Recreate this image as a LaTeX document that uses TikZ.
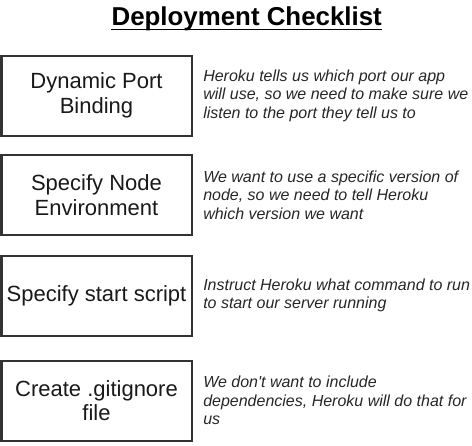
\documentclass[tikz,border=0pt]{standalone}
\usepackage{fontspec}
\setmainfont{Liberation Sans}
\begin{document}
\begin{tikzpicture}[x=0.75pt,y=-0.75pt,
  stepbox/.style={draw=black!80, line width=1.5pt, minimum width=142.5pt, minimum height=60pt,
    inner sep=0pt, align=center, text=black!90, font=\fontsize{16.5}{18.4}\selectfont},
  desc/.style={anchor=west, inner sep=0pt, align=left, text=black!85,
    font=\fontsize{12}{13.8}\selectfont\itshape}]
\useasboundingbox (0,0) rectangle (472,446);
\node[inner sep=0pt, anchor=base, font=\fontsize{19.4}{22}\selectfont\bfseries] (title) at (246.7,25.5) {Deployment Checklist};
\draw[line width=1.4pt] ([yshift=-3pt]title.base west) -- ([yshift=-3pt]title.base east);

\node[stepbox] (b1) at (96.5,95.5) {Dynamic Port\\Binding};
\node[stepbox] (b2) at (96.5,195) {Specify Node\\Environment};
\node[stepbox] (b3) at (96.5,295.5) {Specify start script};
\node[stepbox] (b4) at (96.5,400.5) {Create .gitignore\\file};

\node[desc] (d1) at (203,95.5) {Heroku tells us which port our app\\will use, so we need to make sure we\\listen to the port they tell us to};
\node[desc] (d2) at (203,195) {We want to use a specific version of\\node, so we need to tell Heroku\\which version we want};
\node[desc] (d3) at (203,295.5) {Instruct Heroku what command to run\\to start our server running};
\node[desc] (d4) at (203,400.5) {We don\textquotesingle t want to include\\dependencies, Heroku will do that for\\us};
\end{tikzpicture}
\end{document}
